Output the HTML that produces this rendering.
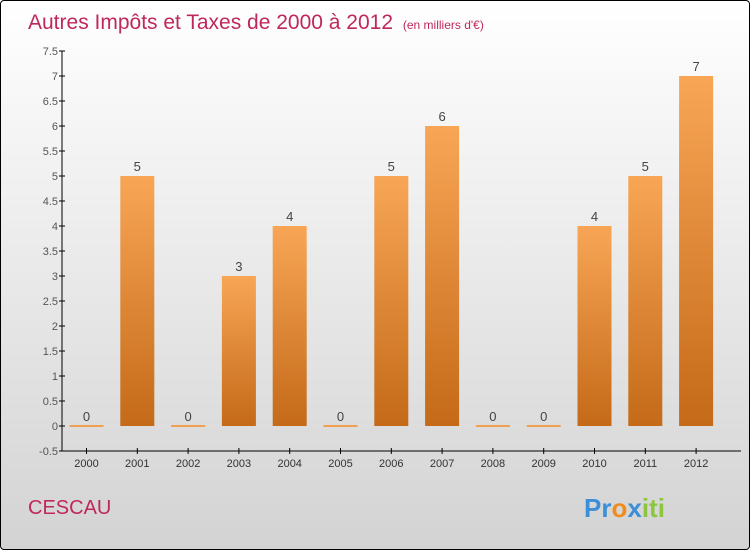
<!DOCTYPE html>
<html><head><meta charset="utf-8"><style>
body{margin:0;width:750px;height:550px;overflow:hidden;font-family:"Liberation Sans",sans-serif}
#wrap{position:absolute;left:0;top:0;width:748px;height:548px;border:1px solid #000;border-radius:4px;background:linear-gradient(#ffffff,#d3d3d3)}
</style></head><body>
<div id="wrap">
<svg width="750" height="550">
<defs><linearGradient id="bg" x1="0" y1="0" x2="0" y2="1"><stop offset="0" stop-color="#f8a656"/><stop offset="1" stop-color="#c46a18"/></linearGradient></defs>
<text x="27" y="28" font-size="21" fill="#c0285a">Autres Impôts et Taxes de 2000 à 2012 <tspan font-size="12" dx="4">(en milliers d'€)</tspan></text>
<g id="axes"></g><g id="bars"></g>
<text x="27" y="513" font-size="20" fill="#c0285a">CESCAU</text>
<text x="583" y="516" font-size="26" font-weight="bold"><tspan fill="#3a8fd8">Pr</tspan><tspan fill="#f08c1e">o</tspan><tspan fill="#3a8fd8">x</tspan><tspan fill="#8cc63f">iti</tspan></text>
</svg></div>
<script>
const years=["2000","2001","2002","2003","2004","2005","2006","2007","2008","2009","2010","2011","2012"];
const values=[0,5,0,3,4,0,5,6,0,0,4,5,7];
const yTicks=[-0.5,0,0.5,1,1.5,2,2.5,3,3.5,4,4.5,5,5.5,6,6.5,7,7.5];
const ns="http://www.w3.org/2000/svg";
const y=v=>425-v*50, x=i=>85.5+i*50.8;
const ax=document.getElementById('axes'),bs=document.getElementById('bars');
function mk(t,a,p){const e=document.createElementNS(ns,t);for(const k in a)e.setAttribute(k,a[k]);p.appendChild(e);return e;}
let l=mk('line',{x1:61,y1:50,x2:61,y2:450,stroke:'#000'},ax);


l=mk('line',{x1:61,y1:450,x2:740,y2:450,stroke:'#000'},ax);


yTicks.forEach(v=>{mk('line',{x1:58,y1:y(v),x2:64,y2:y(v),stroke:'#000'},ax);
const t=mk('text',{x:57,y:y(v)+4,'text-anchor':'end','font-size':11,fill:'#555'},ax);t.textContent=v;

});
years.forEach((yr,i)=>{mk('line',{x1:x(i),y1:447,x2:x(i),y2:453,stroke:'#000'},ax);
const t=mk('text',{x:x(i),y:466,'text-anchor':'middle','font-size':11,fill:'#333'},ax);t.textContent=yr;


const v=values[i];let b;
if(v===0){b=mk('rect',{x:x(i)-17,y:y(0)-1,width:34,height:2,fill:'#f0a050'},bs);}
else{b=mk('rect',{x:x(i)-17,y:y(v),width:34,height:y(0)-y(v),fill:'url(#bg)'},bs);}


const lb=mk('text',{x:x(i),y:y(v)-5,'text-anchor':'middle','font-size':13,fill:'#444'},bs);lb.textContent=v;

});
</script></body></html>
